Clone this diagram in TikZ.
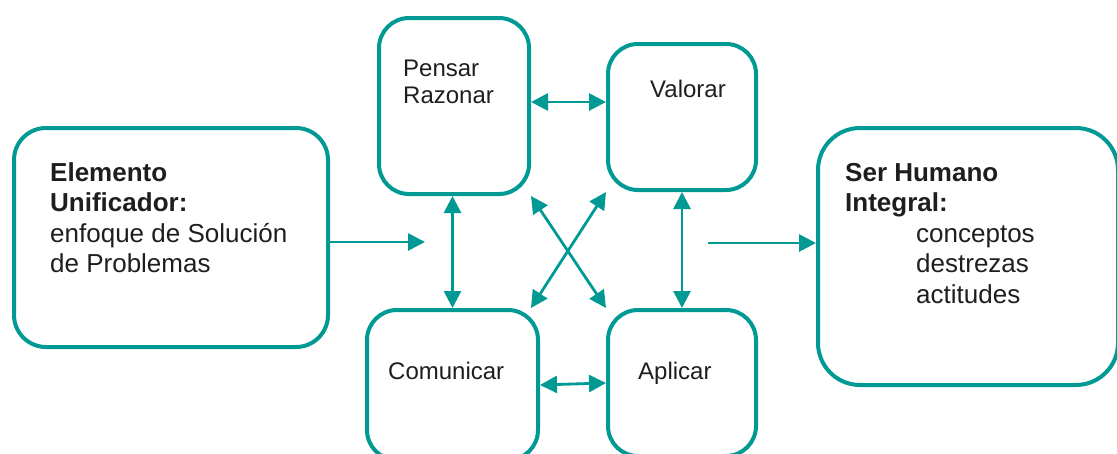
\documentclass[tikz,border=0pt]{standalone}
\usepackage{fontspec}
\setmainfont{Liberation Sans}
\usetikzlibrary{arrows.meta}
\definecolor{teal1}{RGB}{0,153,148}
\definecolor{txt}{RGB}{30,30,30}
\begin{document}
\begin{tikzpicture}[x=1pt,y=-1pt,
  box/.style={draw=teal1,line width=4pt,rectangle,inner sep=0pt,anchor=north west},
  lbl/.style={inner sep=0pt,anchor=base west,align=left,text=txt},
  big/.style={font=\fontsize{26}{30.5}\selectfont},
  small/.style={font=\fontsize{24}{27}\selectfont},
  tip/.style={Triangle[length=17pt,width=17pt]},
  conn/.style={draw=teal1,line width=2.8pt,-{Triangle[length=17pt,width=17pt]}},
  dconn/.style={draw=teal1,line width=2.8pt,{Triangle[length=17pt,width=17pt]}-{Triangle[length=17pt,width=17pt]}}]
\useasboundingbox (0,0) rectangle (1117,453);
\clip (0,0) rectangle (1117,453);
% boxes
\node[box,rounded corners=32pt,minimum width=314pt,minimum height=219pt] (left) at (12,126) {};
\node[box,rounded corners=30pt,minimum width=150pt,minimum height=176pt] (pensar) at (377,16) {};
\node[box,rounded corners=30pt,minimum width=148pt,minimum height=146pt] (valorar) at (606,42) {};
\node[box,rounded corners=30pt,minimum width=171pt,minimum height=150pt] (comunicar) at (365,308) {};
\node[box,rounded corners=30pt,minimum width=148pt,minimum height=146pt] (aplicar) at (606,308) {};
\node[box,rounded corners=42pt,minimum width=300pt,minimum height=257pt] (right) at (816,126) {};
% texts (base anchor = baseline of last line)
\node[lbl,big] (tleft) at (50,272.5) {\textbf{Elemento}\\\textbf{Unificador:}\\enfoque de Solución\\de Problemas};
\node[lbl,small] (tpensar) at (403,103) {Pensar\\Razonar};
\node[lbl,small] (tvalorar) at (650,97) {Valorar};
\node[lbl,small] (tcomunicar) at (388,379) {Comunicar};
\node[lbl,small] (taplicar) at (638,379) {Aplicar};
\node[lbl,big] (tright) at (845,303) {\textbf{Ser Humano}\\\textbf{Integral:}\\\hspace*{71pt}conceptos\\\hspace*{71pt}destrezas\\\hspace*{71pt}actitudes};
% connectors
\coordinate (lend) at (425,242);
\coordinate (rstart) at (708,243);
\draw[conn] (left.east |- lend) -- (lend);
\draw[conn] (rstart) -- (right.west |- rstart);
\draw[dconn] ([yshift=4pt]pensar.east) -- ([yshift=4pt]pensar.east -| valorar.west);
\draw[dconn] (pensar.south -| comunicar.north) -- (comunicar.north);
\draw[dconn] (valorar.south) -- (valorar.south |- aplicar.north);
\draw[dconn] (comunicar.east) -- (aplicar.west);
\draw[dconn] (pensar.south east) -- (aplicar.north west);
\draw[dconn] (valorar.south west) -- (comunicar.north east -| pensar.east);
\end{tikzpicture}
\end{document}
